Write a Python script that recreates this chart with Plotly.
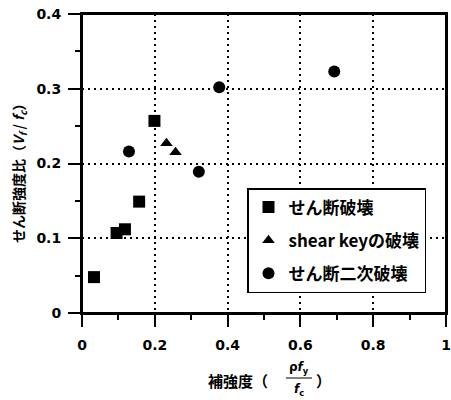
import plotly.graph_objects as go

# Data
shear_x = [0.033, 0.095, 0.118, 0.157, 0.199]
shear_y = [0.048, 0.107, 0.112, 0.149, 0.257]
key_x = [0.232, 0.257]
key_y = [0.227, 0.215]
sec_x = [0.129, 0.321, 0.377, 0.693]
sec_y = [0.216, 0.189, 0.302, 0.323]

names = ["せん断破壊", "shear keyの破壊", "せん断二次破壊"]
x_ticks = [0, 0.2, 0.4, 0.6, 0.8, 1]
x_tick_text = ["0", "0.2", "0.4", "0.6", "0.8", "1"]
y_ticks = [0, 0.1, 0.2, 0.3, 0.4]
y_tick_text = ["0", "0.1", "0.2", "0.3", "0.4"]

W, H = 451, 400
L, R, T, B = 82, 5, 14, 87
pw, ph = W - L - R, H - T - B


def px(x):
    return (x - L) / pw


def py(y):
    return (H - B - y) / ph


CJK = "Noto Sans CJK JP"
TICKF = dict(family="DejaVu Sans", size=14, color="black", weight="bold")

fig = go.Figure()
fig.add_trace(go.Scatter(x=shear_x, y=shear_y, mode="markers", name=names[0],
                         legendgroup="a",
                         marker=dict(symbol="square", size=12, color="black")))
fig.add_trace(go.Scatter(x=key_x, y=key_y, mode="markers", name=names[1],
                         legendgroup="b",
                         marker=dict(symbol="triangle-up", size=11, color="black")))
fig.add_trace(go.Scatter(x=sec_x, y=sec_y, mode="markers", name=names[2],
                         legendgroup="c",
                         marker=dict(symbol="circle", size=12, color="black")))

axis_common = dict(
    showline=True, linecolor="black", linewidth=2, mirror=True,
    showgrid=True, gridcolor="black", gridwidth=1.5, griddash="2px,4px",
    zeroline=False, ticks="outside", ticklen=12, tickwidth=1.5, tickcolor="black",
    tickfont=TICKF, automargin=False, ticklabeloverflow="allow",
)

fig.update_xaxes(range=[0, 1], tickvals=x_ticks, ticktext=x_tick_text,
                 ticklabelstandoff=6,
                 minor=dict(tickvals=[0.1, 0.3, 0.5, 0.7, 0.9], ticks="outside",
                            ticklen=5, tickwidth=1.5, tickcolor="black", showgrid=False),
                 **axis_common)
fig.update_yaxes(range=[0, 0.4], tickvals=y_ticks, ticktext=y_tick_text,
                 ticklabelstandoff=4,
                 minor=dict(tickvals=[0.05, 0.15, 0.25, 0.35], ticks="outside",
                            ticklen=5, tickwidth=1.5, tickcolor="black", showgrid=False),
                 **axis_common)

A = dict(xref="paper", yref="paper", showarrow=False, yanchor="middle")
ann = []
# y axis title
ann.append(dict(x=px(19), y=py(170), textangle=-90, xanchor="center",
                text="せん断強度比（<i>V<sub>f</sub></i> / <i>f<sub>c</sub></i>）",
                font=dict(family=CJK, size=14, color="black", weight="bold"), **A))
# x axis title with a fraction
ann.append(dict(x=px(206), y=py(380), xanchor="left", text="補強度（",
                font=dict(family=CJK, size=15, color="black", weight="bold"), **A))
ann.append(dict(x=px(299), y=py(368), xanchor="center", text="ρ<i>f</i><sub>y</sub>",
                font=dict(family="DejaVu Sans", size=12, color="black", weight="bold"), **A))
ann.append(dict(x=px(299), y=py(390), xanchor="center", text="<i>f</i><sub>c</sub>",
                font=dict(family="DejaVu Sans", size=12, color="black", weight="bold"), **A))
ann.append(dict(x=px(314), y=py(380), xanchor="left", text="）",
                font=dict(family=CJK, size=15, color="black", weight="bold"), **A))

# fraction bar
fig.add_shape(type="line", xref="paper", yref="paper",
              x0=px(286), x1=px(312), y0=py(378), y1=py(378),
              line=dict(color="black", width=1))
# plot frame (right/top edges)
fig.add_shape(type="rect", xref="paper", yref="paper", x0=0, x1=1, y0=0, y1=1,
              line=dict(color="black", width=2), layer="above")

fig.update_layout(
    width=W, height=H,
    margin=dict(l=L, r=R, t=T, b=B, autoexpand=False),
    paper_bgcolor="white", plot_bgcolor="white",
    showlegend=True,
    legend=dict(x=px(247), y=py(188), xanchor="left", yanchor="top",
                bordercolor="black", borderwidth=1.5, bgcolor="white",
                tracegroupgap=8,
                font=dict(family=CJK, size=17, color="black", weight="bold")),
    annotations=ann,
)

fig.write_html(
    "out.html",
    post_script=("document.documentElement.style.overflow='hidden';"
                 "document.body.style.overflow='hidden';"
                 "document.body.style.margin='0';"),
)
